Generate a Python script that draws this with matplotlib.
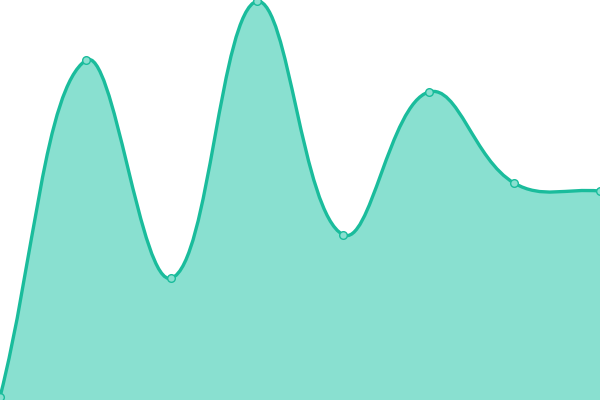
import numpy as np
import matplotlib
matplotlib.use("Agg")
import matplotlib.pyplot as plt
from matplotlib.path import Path
from matplotlib.patches import PathPatch

# data
labels = ["A", "B", "C", "D", "E", "F", "G", "H"]
values = [0, 85, 30, 100, 41, 77, 54, 52]

line_color = "#1abc9c"
fill_color = "#89e0d0"
tension = 0.4


def spline_controls(pts, t):
    """Chart.js style control points, computed in pixel space"""
    n = len(pts)
    ctrl = []
    for i in range(n):
        prev = pts[max(i - 1, 0)]
        cur = pts[i]
        nxt = pts[min(i + 1, n - 1)]
        d01 = np.hypot(*(cur - prev))
        d12 = np.hypot(*(nxt - cur))
        tot = d01 + d12
        s01 = d01 / tot if tot else 0
        s12 = d12 / tot if tot else 0
        cp_prev = cur - t * s01 * (nxt - prev)
        cp_next = cur + t * s12 * (nxt - prev)
        ctrl.append((cp_prev, cp_next))
    return ctrl


fig = plt.figure(figsize=(6, 4), dpi=100)
ax = fig.add_axes([0, 0, 1, 1])
ax.set_xlim(0, len(values) - 1)
ax.set_ylim(-0.76, 100.25)
ax.axis("off")

x = np.arange(len(values))
pix = ax.transData.transform(np.column_stack([x, values]))
bbox = ax.get_window_extent()
ctrl = spline_controls(pix, tension)

verts = [pix[0]]
codes = [Path.MOVETO]
for i in range(1, len(pix)):
    c1 = ctrl[i - 1][1].copy()
    c2 = ctrl[i][0].copy()
    for c in (c1, c2):
        c[1] = min(max(c[1], bbox.y0), bbox.y1)
        c[0] = min(max(c[0], bbox.x0), bbox.x1)
    verts += [c1, c2, pix[i]]
    codes += [Path.CURVE4] * 3

inv = ax.transData.inverted()
data_verts = inv.transform(np.array(verts))

line_path = Path(data_verts, codes)
fill_verts = np.vstack([data_verts, [[x[-1], -0.76], [x[0], -0.76], data_verts[0]]])
fill_codes = codes + [Path.LINETO, Path.LINETO, Path.CLOSEPOLY]
fill_path = Path(fill_verts, fill_codes)

ax.add_patch(PathPatch(fill_path, facecolor=fill_color, edgecolor="none", zorder=1))
ax.add_patch(PathPatch(line_path, facecolor="none", edgecolor=line_color, lw=2.4, zorder=2))
ax.plot(x, values, "o", ms=5.5, mfc=fill_color, mec=line_color, mew=1, zorder=3, clip_on=False)

fig.savefig("out.png", dpi=100)
